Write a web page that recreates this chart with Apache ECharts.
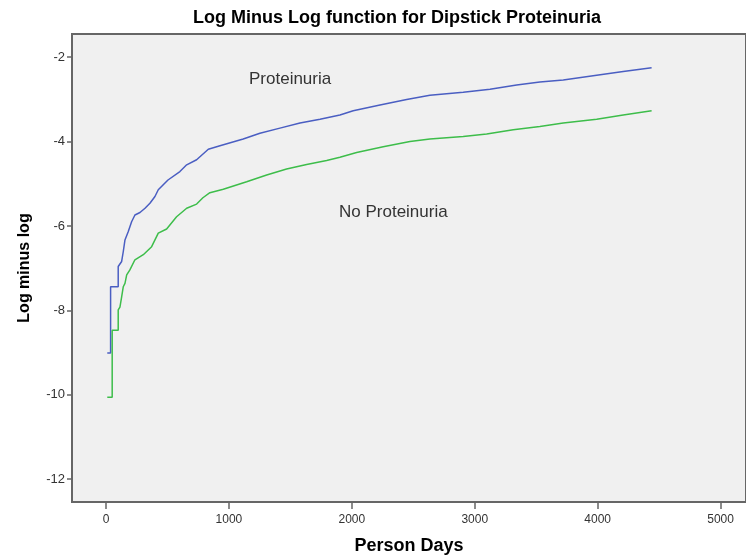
<!DOCTYPE html>
<html lang="en">

<head>
    <meta charset="UTF-8">
    <title>Log Minus Log function for Dipstick Proteinuria</title>
    <script src="https://cdn.jsdelivr.net/npm/echarts@6/dist/echarts.min.js"></script>
    <style>
        html, body { margin: 0; padding: 0; background: #ffffff; }
        #chart { width: 746px; height: 556px; }
    </style>
</head>

<body>
    <div id="chart"></div>

    <script>
        // Proteinuria (blue)
        var protDays = [10, 37, 37, 99, 99, 127, 140, 154, 181, 208, 235, 276, 317, 357, 398, 425, 504, 601, 656, 737,
            832, 927, 1116, 1252, 1415, 1578, 1741, 1903, 2011, 2229, 2446, 2635, 2906, 3124, 3341, 3530, 3720, 3992, 4208, 4439];
        var protLml = [-9.01, -9.01, -7.44, -7.44, -6.96, -6.84, -6.61, -6.33, -6.13, -5.90, -5.74, -5.68, -5.58, -5.46, -5.30, -5.14, -4.91, -4.71, -4.55, -4.43,
            -4.18, -4.10, -3.94, -3.80, -3.68, -3.56, -3.47, -3.37, -3.27, -3.13, -3.00, -2.90, -2.83, -2.76, -2.66, -2.59, -2.54, -2.43, -2.34, -2.25];

        // No Proteinuria (green)
        var noProtDays = [10, 50, 50, 99, 99, 113, 127, 140, 154, 168, 194, 235, 303, 371, 425, 493, 574, 656, 737, 788,
            845, 954, 1144, 1307, 1469, 1632, 1795, 1903, 2039, 2255, 2473, 2635, 2906, 3097, 3313, 3530, 3720, 3992, 4208, 4439];
        var noProtLml = [-10.06, -10.06, -8.47, -8.47, -7.99, -7.92, -7.68, -7.44, -7.36, -7.16, -7.04, -6.80, -6.68, -6.49, -6.17, -6.07, -5.78, -5.58, -5.48, -5.33,
            -5.21, -5.13, -4.95, -4.79, -4.65, -4.54, -4.45, -4.37, -4.26, -4.12, -4.00, -3.94, -3.88, -3.82, -3.72, -3.64, -3.56, -3.47, -3.37, -3.27];

        var xTicks = [0, 1000, 2000, 3000, 4000, 5000];
        var yTicks = [-12, -10, -8, -6, -4, -2];

        function pairs(xs, ys) {
            return xs.map(function (x, i) { return [x, ys[i]]; });
        }

        var font = '"Liberation Sans", Arial, sans-serif';
        var axisColor = '#666666';

        var chart = echarts.init(document.getElementById('chart'));
        chart.setOption({
            animation: false,
            backgroundColor: '#ffffff',
            title: {
                text: 'Log Minus Log function for Dipstick Proteinuria',
                left: 392,
                top: 4,
                textAlign: 'center',
                textStyle: { fontFamily: font, fontSize: 18, fontWeight: 'bold', color: '#000000' }
            },
            grid: {
                left: 72, top: 34, right: 0, bottom: 54,
                outerBoundsMode: 'none',
                containLabel: false,
                show: true,
                backgroundColor: '#f0f0f0',
                borderColor: axisColor,
                borderWidth: 2
            },
            xAxis: {
                type: 'value',
                min: -277,
                max: 5207,
                name: 'Person Days',
                nameLocation: 'middle',
                nameGap: 35,
                nameTextStyle: { fontFamily: font, fontSize: 18, fontWeight: 'bold', color: '#000000' },
                axisLine: { show: true, onZero: false, lineStyle: { color: axisColor, width: 2 } },
                axisTick: { show: true, length: 7, customValues: xTicks, lineStyle: { color: axisColor, width: 1.5 } },
                axisLabel: {
                    customValues: xTicks, margin: 12, fontFamily: font, fontSize: 12, color: '#333333',
                    formatter: function (v) { return String(v); }
                },
                splitLine: { show: false }
            },
            yAxis: {
                type: 'value',
                min: -12.54,
                max: -1.45,
                name: 'Log minus log',
                nameLocation: 'middle',
                nameGap: 39,
                nameTextStyle: { fontFamily: font, fontSize: 16, fontWeight: 'bold', color: '#000000' },
                axisLine: { show: true, onZero: false, lineStyle: { color: axisColor, width: 2 } },
                axisTick: { show: true, length: 5, customValues: yTicks, lineStyle: { color: axisColor, width: 1.5 } },
                axisLabel: { customValues: yTicks, margin: 7, fontFamily: font, fontSize: 13, color: '#333333' },
                splitLine: { show: false }
            },
            graphic: [
                {
                    type: 'text', left: 249, top: 71,
                    style: { text: 'Proteinuria', font: '17px ' + font, fill: '#333333' }
                },
                {
                    type: 'text', left: 339, top: 204,
                    style: { text: 'No Proteinuria', font: '17px ' + font, fill: '#333333' }
                }
            ],
            series: [
                {
                    name: 'Proteinuria',
                    type: 'line',
                    showSymbol: false,
                    data: pairs(protDays, protLml),
                    lineStyle: { color: '#4a5ec2', width: 1.5 }
                },
                {
                    name: 'No Proteinuria',
                    type: 'line',
                    showSymbol: false,
                    data: pairs(noProtDays, noProtLml),
                    lineStyle: { color: '#3dbd4a', width: 1.5 }
                }
            ]
        });
    </script>
</body>

</html>
